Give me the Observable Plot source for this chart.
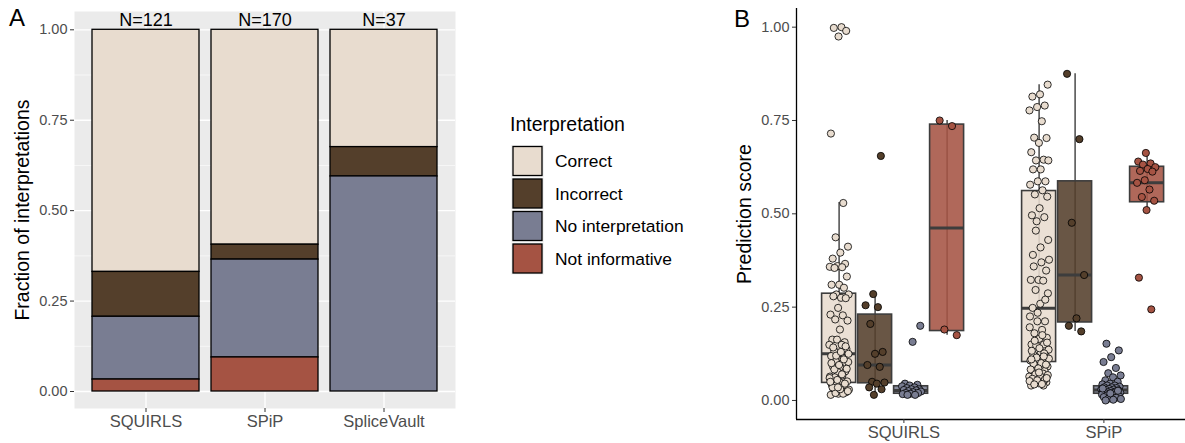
<!DOCTYPE html>
<html>
<head>
<meta charset="utf-8">
<script src="https://cdn.jsdelivr.net/npm/d3@7"></script>
<script src="https://cdn.jsdelivr.net/npm/@observablehq/plot@0.6"></script>
<style>
  body { margin: 0; background: white; }
  #root { position: relative; width: 1185px; height: 443px; font-family: "Liberation Sans", Arial, Helvetica, sans-serif; }
  #pa, #pb, #overlay { position: absolute; top: 0; }
  #pa { left: 0; }
  #pb { left: 720px; }
  #overlay { left: 0; pointer-events: none; }
</style>
</head>
<body>
<div id="root">
  <div id="pa"></div>
  <div id="pb"></div>
  <svg id="overlay" width="1185" height="443"></svg>
</div>
<script>
// ---------- Data ----------
const tools = ["SQUIRLS", "SPiP", "SpliceVault"];
const types = ["Correct", "Incorrect", "No interpretation", "Not informative"];
const typeColors = ["#e8dccf", "#543f2b", "#797d92", "#a55343"];
const stackOrder = ["Not informative", "No interpretation", "Incorrect", "Correct"];

// counts per tool (SQUIRLS, SPiP, SpliceVault)
const countCorrect = [81, 101, 12];
const countIncorrect = [15, 7, 3];
const countNoInterp = [21, 46, 22];
const countNotInf = [4, 16, 0];

const fracTicks = [0, 0.25, 0.5, 0.75, 1];
const fracMinor = [0.125, 0.375, 0.625, 0.875];

// Panel B
const bTools = ["SQUIRLS", "SPiP"];
const boxTool = [0, 0, 0, 0, 1, 1, 1, 1];
const boxType = [0, 1, 2, 3, 0, 1, 2, 3];
const boxLow = [0.015, 0.015, 0.015, 0.175, 0.038, 0.185, 0.0, 0.51];
const boxQ1 = [0.047, 0.046, 0.018, 0.186, 0.103, 0.209, 0.018, 0.531];
const boxMed = [0.125, 0.095, 0.027, 0.462, 0.247, 0.336, 0.028, 0.583];
const boxQ3 = [0.286, 0.23, 0.038, 0.739, 0.561, 0.587, 0.038, 0.626];
const boxHigh = [0.53, 0.285, 0.045, 0.75, 0.846, 0.875, 0.054, 0.663];

const squirlsCorrect = [1.0, 0.998, 0.99, 0.975, 0.715, 0.529, 0.437, 0.412, 0.396, 0.38, 0.366, 0.36, 0.358, 0.357, 0.355, 0.332, 0.31, 0.31, 0.302, 0.284, 0.284, 0.275, 0.279, 0.274, 0.248, 0.23, 0.228, 0.217, 0.214, 0.19, 0.163, 0.156, 0.163, 0.149, 0.149, 0.134, 0.138, 0.116, 0.119, 0.113, 0.104, 0.103, 0.089, 0.091, 0.078, 0.076, 0.064, 0.067, 0.062, 0.051, 0.049, 0.042, 0.04, 0.042, 0.029, 0.027, 0.029, 0.022, 0.018, 0.015, 0.018, 0.02, 0.025, 0.03, 0.035, 0.045, 0.055, 0.06, 0.07, 0.083, 0.085, 0.095, 0.1, 0.11, 0.12, 0.125, 0.13, 0.142, 0.145, 0.035, 0.05];
const squirlsIncorrect = [0.655, 0.285, 0.255, 0.25, 0.205, 0.13, 0.125, 0.095, 0.09, 0.05, 0.048, 0.045, 0.035, 0.03, 0.015];
const squirlsNoInterp = [0.2, 0.157, 0.045, 0.042, 0.04, 0.038, 0.035, 0.033, 0.03, 0.03, 0.028, 0.027, 0.025, 0.024, 0.022, 0.02, 0.02, 0.018, 0.017, 0.015, 0.015];
const squirlsNotInf = [0.75, 0.735, 0.19, 0.175];
const spipCorrect = [0.846, 0.82, 0.814, 0.79, 0.786, 0.777, 0.748, 0.704, 0.703, 0.69, 0.665, 0.645, 0.643, 0.643, 0.619, 0.619, 0.587, 0.587, 0.578, 0.563, 0.552, 0.546, 0.515, 0.496, 0.491, 0.48,
  0.377, 0.37, 0.359, 0.348, 0.323, 0.323, 0.321, 0.296, 0.287, 0.259, 0.248, 0.212, 0.212, 0.196, 0.189, 0.18, 0.168, 0.165, 0.15, 0.15, 0.147, 0.136, 0.129, 0.123, 0.12, 0.109, 0.107, 0.103, 0.094, 0.091, 0.089, 0.08, 0.079, 0.076, 0.064, 0.062, 0.049, 0.049, 0.046, 0.04, 0.04,
  0.455, 0.43, 0.41, 0.39, 0.27, 0.235, 0.225, 0.175, 0.16, 0.155, 0.14, 0.133, 0.126, 0.115, 0.112, 0.1, 0.098, 0.096, 0.086, 0.083, 0.072, 0.07, 0.068, 0.066, 0.058, 0.056, 0.054, 0.052, 0.044, 0.043, 0.06, 0.075, 0.11, 0.118];
const spipIncorrect = [0.875, 0.70, 0.476, 0.336, 0.22, 0.2, 0.185];
const spipNoInterp = [0.152, 0.134, 0.116, 0.103, 0.087, 0.073, 0.067, 0.062, 0.054, 0.05,
  0.045, 0.043, 0.04, 0.04, 0.037, 0.035, 0.035, 0.033, 0.031, 0.03, 0.029, 0.028, 0.027, 0.025, 0.025, 0.024, 0.022, 0.021, 0.02, 0.02, 0.018, 0.017, 0.016, 0.015, 0.013, 0.012, 0.01, 0.009, 0.007, 0.005, 0.004, 0.002, 0.0, 0.026, 0.019, 0.032];
const spipNotInf = [0.663, 0.64, 0.635, 0.632, 0.625, 0.62, 0.615, 0.613, 0.59, 0.583, 0.565, 0.545, 0.535, 0.51, 0.329, 0.244];

// ---------- Build tables ----------
const FONT = '"Liberation Sans", Arial, Helvetica, sans-serif';
const countsByType = [countCorrect, countIncorrect, countNoInterp, countNotInf];
const totals = tools.map((t, i) => countsByType.reduce((s, c) => s + c[i], 0));
const barRows = [];
tools.forEach((tool, i) => types.forEach((type, j) => {
  const n = countsByType[j][i];
  if (n > 0) barRows.push({tool, type, frac: n / totals[i]});
}));
const totalRows = tools.map((tool, i) => ({tool, label: "N=" + totals[i]}));

// Panel A
const yA = [-0.047, 1.0506];
const plotA = Plot.plot({
  width: 460, height: 443,
  marginLeft: 74, marginRight: 5, marginTop: 11, marginBottom: 35,
  style: {fontFamily: FONT, background: "transparent", overflow: "visible"},
  x: {domain: tools, paddingInner: 0.1, paddingOuter: 0.15, label: null},
  y: {domain: yA, label: null},
  color: {domain: types, range: typeColors},
  marks: [
    Plot.frame({fill: "#ebebeb", stroke: null}),
    Plot.gridY(fracMinor, {stroke: "white", strokeOpacity: 1, strokeWidth: 0.6}),
    Plot.gridY(fracTicks, {stroke: "white", strokeOpacity: 1, strokeWidth: 1.3}),
    Plot.gridX(tools, {stroke: "white", strokeOpacity: 1, strokeWidth: 1.3}),
    Plot.barY(barRows, {x: "tool", y: "frac", fill: "type", order: stackOrder, stroke: "black", strokeWidth: 1.3}),
    Plot.text(totalRows, {x: "tool", y: () => 1, text: "label", dy: -9.5, fontSize: 18, fill: "black"}),
    Plot.axisY(fracTicks, {tickFormat: d3.format(".2f"), fontSize: 14.5, fill: "#4d4d4d", stroke: "#333", tickSize: 4, tickPadding: 3, label: null}),
    Plot.axisX({fontSize: 16.5, fill: "#4d4d4d", stroke: "#333", tickSize: 4, tickPadding: 3, label: null})
  ]
});
document.getElementById("pa").appendChild(plotA);

// Panel B
const dodge = 0.18, groupShift = -0.054, halfBox = 0.085, jitterW = 0.1;
const pos = (ti, ty) => ti + (ty - 1.5) * dodge + groupShift;
const boxRows = boxTool.map((ti, k) => ({
  x: pos(ti, boxType[k]), type: types[boxType[k]],
  lo: boxLow[k], q1: boxQ1[k], med: boxMed[k], q3: boxQ3[k], hi: boxHigh[k]
}));
const pointSets = [
  [0, 0, squirlsCorrect], [0, 1, squirlsIncorrect], [0, 2, squirlsNoInterp], [0, 3, squirlsNotInf],
  [1, 0, spipCorrect], [1, 1, spipIncorrect], [1, 2, spipNoInterp], [1, 3, spipNotInf]
];
const pointRows = [];
pointSets.forEach(([ti, ty, vals]) => vals.forEach((v, i) => {
  const j = (((i + 1) * 0.6180339887 + ti * 0.31 + ty * 0.17) % 1) - 0.5; // deterministic jitter
  pointRows.push({x: pos(ti, ty) + j * jitterW, y: v, type: types[ty]});
}));
const xB = [-0.537, 1.408], yB = [-0.051, 1.050];
const plotB = Plot.plot({
  width: 465, height: 443,
  marginLeft: 76, marginRight: 0, marginTop: 8, marginBottom: 24,
  style: {fontFamily: FONT, background: "transparent", overflow: "visible"},
  x: {domain: xB, label: null},
  y: {domain: yB, label: null},
  color: {domain: types, range: typeColors},
  marks: [
    Plot.ruleX(boxRows, {x: "x", y1: "lo", y2: "hi", stroke: "#3d3d3d", strokeWidth: 1.4}),
    Plot.rect(boxRows, {x1: d => d.x - halfBox, x2: d => d.x + halfBox, y1: "q1", y2: "q3", fill: "type", fillOpacity: 0.88, stroke: "#3d3d3d", strokeWidth: 1.6}),
    Plot.ruleY(boxRows, {y: "med", x1: d => d.x - halfBox, x2: d => d.x + halfBox, stroke: "#3d3d3d", strokeWidth: 3}),
    Plot.dot(pointRows, {x: "x", y: "y", fill: "type", r: 3.6, stroke: "black", strokeWidth: 0.8}),
    Plot.ruleX([xB[0]], {stroke: "black", strokeWidth: 1.3}),
    Plot.ruleY([yB[0]], {stroke: "black", strokeWidth: 1.3}),
    Plot.axisY(fracTicks, {tickFormat: d3.format(".2f"), fontSize: 14.5, fill: "#4d4d4d", stroke: "#333", tickSize: 4, tickPadding: 3, label: null}),
    Plot.axisX([0, 1], {tickFormat: i => bTools[i], fontSize: 16.5, fill: "#4d4d4d", stroke: "#333", tickSize: 4, tickPadding: 3, label: null})
  ]
});
document.getElementById("pb").appendChild(plotB);

// ---------- Overlay texts & legend ----------
const svg = d3.select("#overlay").style("font-family", FONT);
svg.append("text").attr("x", 9).attr("y", 26).attr("font-size", 24).text("A");
svg.append("text").attr("x", 734).attr("y", 27).attr("font-size", 24).text("B");
svg.append("text").attr("transform", "translate(29,210) rotate(-90)").attr("text-anchor", "middle").attr("font-size", 19.5).text("Fraction of interpretations");
svg.append("text").attr("transform", "translate(751,214) rotate(-90)").attr("text-anchor", "middle").attr("font-size", 19.5).text("Prediction score");

const lg = svg.append("g");
lg.append("text").attr("x", 510).attr("y", 131).attr("font-size", 19.5).text("Interpretation");
types.forEach((t, i) => {
  const y0 = 145 + i * 32.5;
  lg.append("rect").attr("x", 511).attr("y", y0).attr("width", 33).attr("height", 32).attr("fill", "#f2f2f2");
  lg.append("rect").attr("x", 513).attr("y", y0 + 1.5).attr("width", 29).attr("height", 29)
    .attr("fill", typeColors[i]).attr("stroke", "black").attr("stroke-width", 1.3);
  lg.append("text").attr("x", 555).attr("y", y0 + 16).attr("dy", "0.35em").attr("font-size", 17.4).text(t);
});
</script>
</body>
</html>
